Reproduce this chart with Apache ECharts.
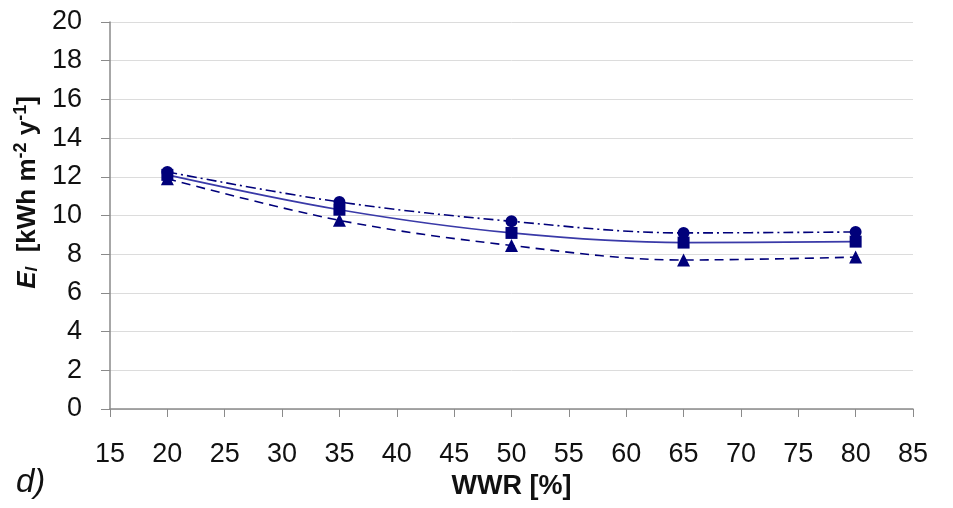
<!DOCTYPE html>
<html><head><meta charset="utf-8">
<script src="https://cdn.jsdelivr.net/npm/echarts@6/dist/echarts.min.js"></script>
<style>html,body{margin:0;padding:0;background:#fff}#c{width:953px;height:508px}</style>
</head><body><div id="c"></div>
<script>
const wwr = [20, 35, 50, 65, 80];
const seriesCircle = [12.25, 10.7, 9.7, 9.1, 9.15];
const seriesSquare = [12.1, 10.3, 9.1, 8.6, 8.65];
const seriesTriangle = [11.9, 9.75, 8.45, 7.7, 7.85];
const xTicks = [15, 20, 25, 30, 35, 40, 45, 50, 55, 60, 65, 70, 75, 80, 85];
const yTicks = [0, 2, 4, 6, 8, 10, 12, 14, 16, 18, 20];

const FONT = '"Liberation Sans", Arial, sans-serif';
const navy = '#00007a';
function pts(v){ return wwr.map((x,i)=>[x, v[i]]); }
function mk(name, data, symbol, type, lineColor){
  return {
    name, type:'line', data: pts(data), smooth: 0.35,
    symbol, symbolSize: symbol==='triangle'?13:12,
    itemStyle:{color:navy},
    lineStyle:{color:lineColor, width:1.6, type},
    z: 3
  };
}
const chart = echarts.init(document.getElementById('c'), null, {renderer:'canvas'});
chart.setOption({
  animation:false,
  backgroundColor:'#fff',
  grid:{left:110, right:40, top:22, bottom:99},
  xAxis:{
    type:'value', min:15, max:85, interval:5,
    axisLine:{lineStyle:{color:'#8a8a8a', width:1.5}},
    axisTick:{show:true, length:8, lineStyle:{color:'#8a8a8a'}},
    splitLine:{show:false},
    axisLabel:{color:'#111', fontFamily:FONT, fontSize:27, margin:32,
      formatter:v=>xTicks.includes(v)?String(v):''},
    name:'WWR [%]', nameLocation:'middle', nameGap:64,
    nameTextStyle:{color:'#111', fontFamily:FONT, fontSize:27, fontWeight:'bold'}
  },
  yAxis:{
    type:'value', min:0, max:20, interval:2,
    axisLine:{show:true, lineStyle:{color:'#8a8a8a', width:1.5}},
    axisTick:{show:true, length:9, lineStyle:{color:'#8a8a8a'}},
    splitLine:{show:true, lineStyle:{color:'#dcdcdc', width:1}},
    axisLabel:{color:'#111', fontFamily:FONT, fontSize:27, margin:28,
      formatter:v=>yTicks.includes(v)?String(v):''},
    name:'{i|E}{s|l} {b| [kWh m}{sup|-2}{b| y}{sup|-1}{b|]}', nameLocation:'middle', nameGap:66, nameRotate:90,
    nameTextStyle:{color:'#111', fontFamily:FONT, fontSize:26, fontWeight:'bold',
      padding:[0,0,0,46],
      rich:{
        i:{fontSize:26, fontStyle:'italic', fontWeight:'bold', fontFamily:FONT, color:'#111'},
        s:{fontSize:17, fontStyle:'italic', fontWeight:'bold', fontFamily:FONT, color:'#111', padding:[10,0,0,0]},
        b:{fontSize:26, fontWeight:'bold', fontFamily:FONT, color:'#111'},
        sup:{fontSize:18, fontWeight:'bold', fontFamily:FONT, color:'#111', padding:[0,0,13,0]}
      }}
  },
  graphic:[{type:'text', left:16, top:466, style:{text:'d)', font:'italic 33px "Liberation Sans", Arial', fill:'#111'}}],
  series:[
    mk('circle', seriesCircle, 'circle', [10,4,2,4], navy),
    mk('square', seriesSquare, 'rect', 'solid', '#3a3aa8'),
    mk('triangle', seriesTriangle, 'triangle', [9,6], navy)
  ]
});
</script></body></html>
